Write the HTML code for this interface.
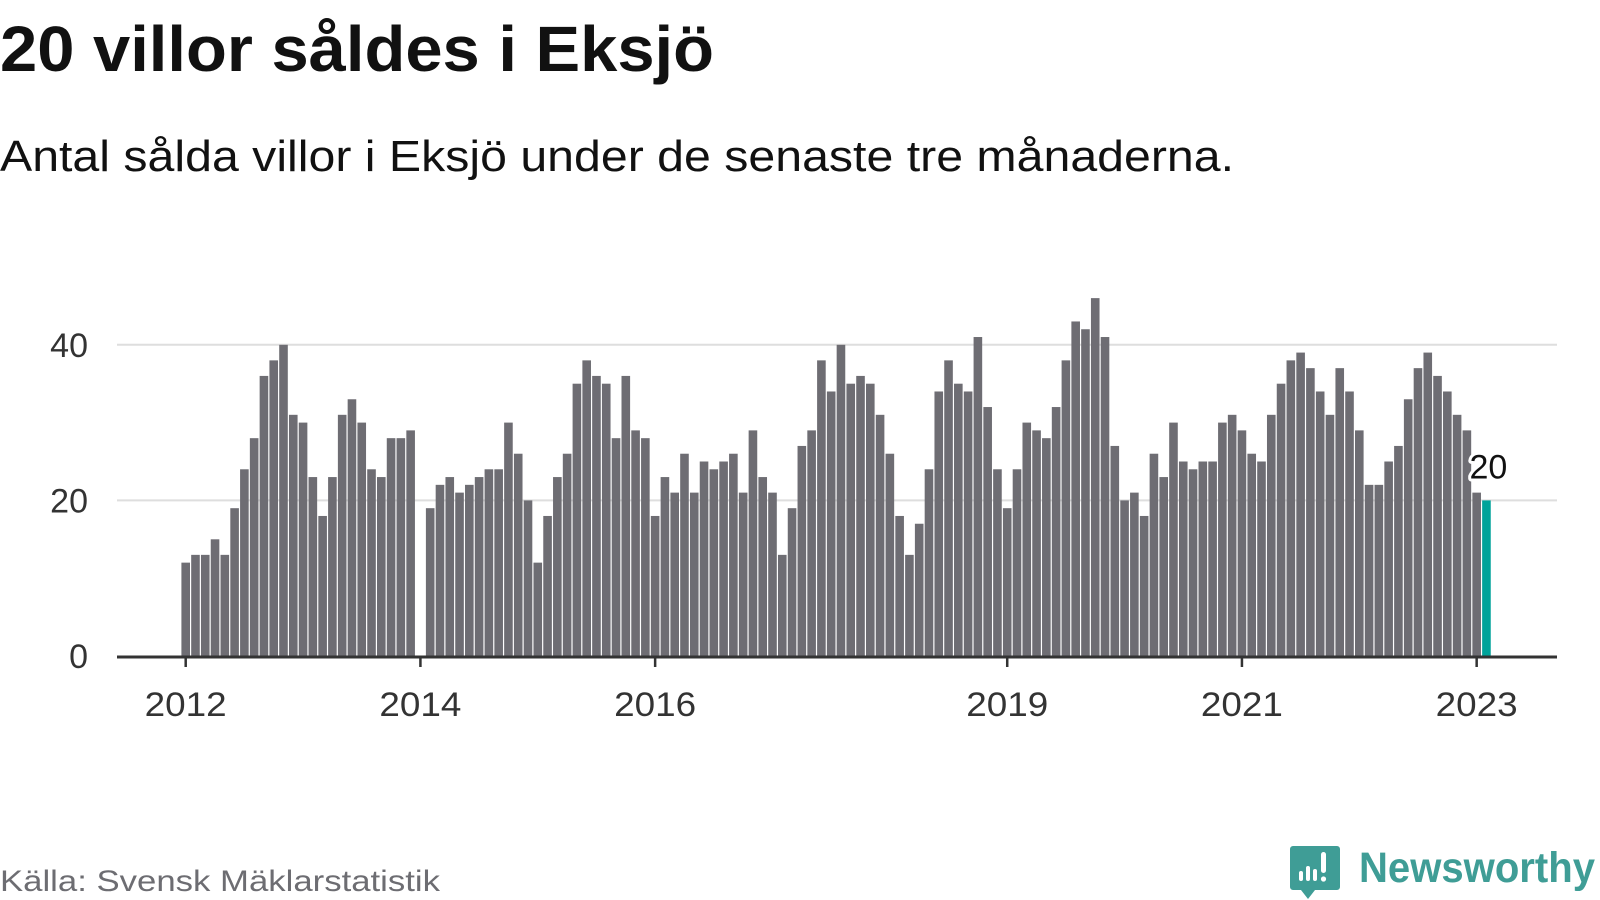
<!DOCTYPE html>
<html>
<head>
<meta charset="utf-8">
<style>
html,body{margin:0;padding:0;background:#fff;}
svg{display:block;}
text{font-family:"Liberation Sans",sans-serif;}
</style>
</head>
<body>
<svg id="chart" width="1600" height="900" viewBox="0 0 1600 900">
  <text x="0" y="71" font-size="64" font-weight="bold" fill="#111" textLength="714" lengthAdjust="spacingAndGlyphs">20 villor såldes i Eksjö</text>
  <text x="0" y="171" font-size="44" fill="#111" textLength="1234" lengthAdjust="spacingAndGlyphs">Antal sålda villor i Eksjö under de senaste tre månaderna.</text>
  <g id="grid"></g>
  <g id="yaxis"></g>
  <g id="bars"></g>
  <g id="xaxis"></g>
  <g id="annot"></g>
  <text x="0" y="891" font-size="30" fill="#6d6d72" textLength="440" lengthAdjust="spacingAndGlyphs">Källa: Svensk Mäklarstatistik</text>
  <g>
    <path d="M1293 846 h44 a3 3 0 0 1 3 3 v38 a3 3 0 0 1 -3 3 h-22 l-7 9 l-7 -9 h-8 a3 3 0 0 1 -3 -3 v-38 a3 3 0 0 1 3 -3z" fill="#3f9d96"/>
    <rect x="1299" y="871" width="4" height="10" rx="2" fill="#fff"/>
    <rect x="1306" y="866" width="4" height="15" rx="2" fill="#fff"/>
    <rect x="1313" y="869" width="4" height="12" rx="2" fill="#fff"/>
    <rect x="1321" y="852" width="5" height="21" rx="2.5" fill="#fff"/>
    <circle cx="1323.5" cy="879" r="2.6" fill="#fff"/>
    <text x="1359" y="882" font-size="43" font-weight="bold" fill="#3f9d96" textLength="236" lengthAdjust="spacingAndGlyphs">Newsworthy</text>
  </g>
</svg>
<script>
const startYear = 2012;
const values2012 = [12,13,13,15,13,19,24,28,36,38,40,31];
const values2013 = [30,23,18,23,31,33,30,24,23,28,28,29];
const values2014 = [null,19,22,23,21,22,23,24,24,30,26,20];
const values2015 = [12,18,23,26,35,38,36,35,28,36,29,28];
const values2016 = [18,23,21,26,21,25,24,25,26,21,29,23];
const values2017 = [21,13,19,27,29,38,34,40,35,36,35,31];
const values2018 = [26,18,13,17,24,34,38,35,34,41,32,24];
const values2019 = [19,24,30,29,28,32,38,43,42,46,41,27];
const values2020 = [20,21,18,26,23,30,25,24,25,25,30,31];
const values2021 = [29,26,25,31,35,38,39,37,34,31,37,34];
const values2022 = [29,22,22,25,27,33,37,39,36,34,31,29];
const values2023 = [21,20];
const yTicks = [0,20,40];
const xTickYears = [2012,2014,2016,2019,2021,2023];

const values = [].concat(values2012,values2013,values2014,values2015,values2016,values2017,values2018,values2019,values2020,values2021,values2022,values2023);

const NS = "http://www.w3.org/2000/svg";
const x0 = 185.7, monthW = 9.78, barW = 8.6;
const yBase = 656, unit = 7.78;
const xL = 117, xR = 1557;
function xScale(monthIndex){ return x0 + monthIndex*monthW; }
function yScale(v){ return yBase - v*unit; }
function mk(tag, attrs, parent){
  const el = document.createElementNS(NS, tag);
  for (const k in attrs) el.setAttribute(k, attrs[k]);
  parent.appendChild(el);
  return el;
}
const grid = document.getElementById('grid');
const yaxis = document.getElementById('yaxis');
const bars = document.getElementById('bars');
const xaxis = document.getElementById('xaxis');
const annot = document.getElementById('annot');

yTicks.forEach(t => {
  if (t !== 0) {
    const gl = mk('line', {x1:xL, x2:xR, y1:yScale(t), y2:yScale(t), stroke:'#dedede', 'stroke-width':2}, grid);
    
    
  }
  const lb = mk('text', {x:88, y:yScale(t)+12, 'font-size':34, fill:'#333', 'text-anchor':'end'}, yaxis);
  lb.textContent = t;
  
  
});

const lastIdx = values.length - 1;
values.forEach((v, i) => {
  if (v === null) return;
  const r = mk('rect', {x:xScale(i)-barW/2, y:yScale(v), width:barW, height:yBase-yScale(v), fill: i === lastIdx ? '#00a39a' : '#6e6d73'}, bars);
  
  
});

const axis = mk('line', {x1:xL, x2:xR, y1:yBase+1, y2:yBase+1, stroke:'#333', 'stroke-width':3}, xaxis);


xTickYears.forEach(yr => {
  const xi = xScale((yr - startYear)*12);
  const tk = mk('line', {x1:xi, x2:xi, y1:yBase, y2:yBase+11, stroke:'#333', 'stroke-width':2.5}, xaxis);
  
  
  const lb = mk('text', {x:xi, y:716, 'font-size':34, fill:'#333', 'text-anchor':'middle', textLength:82, lengthAdjust:'spacingAndGlyphs'}, xaxis);
  lb.textContent = yr;
  
  
});

const lastV = values[lastIdx];
const lx = xScale(lastIdx) + 2, ly = yScale(lastV) - 22;
const halo = mk('text', {x:lx, y:ly, 'font-size':34, fill:'#fff', stroke:'#fff', 'stroke-width':6, 'stroke-linejoin':'round', 'text-anchor':'middle'}, annot);
halo.textContent = lastV;


const lbl = mk('text', {x:lx, y:ly, 'font-size':34, fill:'#111', 'text-anchor':'middle'}, annot);
lbl.textContent = lastV;


</script>
</body>
</html>
